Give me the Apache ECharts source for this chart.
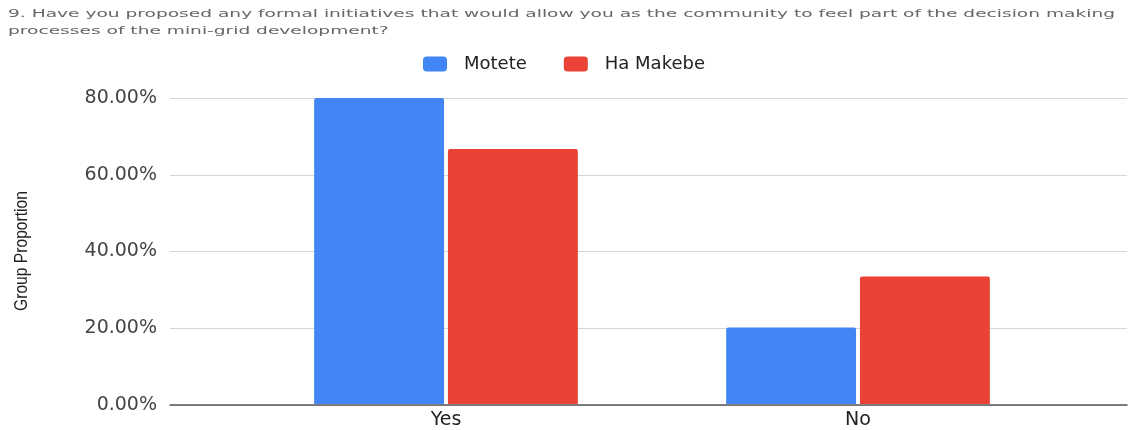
<!DOCTYPE html>
<html>
<head>
<meta charset="utf-8">
<script src="https://cdn.jsdelivr.net/npm/echarts@6/dist/echarts.min.js"></script>
<style>
  html, body { margin: 0; padding: 0; background: #fff; }
  #chart { width: 1129px; height: 430px; }
</style>
</head>
<body>
<div id="chart"></div>
<script>
// Survey answers and group shares
const categories = ['Yes', 'No'];
const seriesNames = ['Motete', 'Ha Makebe'];
const moteteValues = [0.80, 0.20];
const haMakebeValues = [0.6667, 0.3333];
const yTicks = [0, 0.2, 0.4, 0.6, 0.8];
const titleLines = [
  '9. Have you proposed any formal initiatives that would allow you as the community to feel part of the decision making',
  'processes of the mini-grid development?'
];
const yAxisTitle = 'Group Proportion';

const BLUE = '#4285F4';
const RED = '#EA4335';
const FONT = '"DejaVu Sans", Verdana, sans-serif';

const ctx = document.createElement('canvas').getContext('2d');

// Stretch the question text so its first line spans the page width
const titleFont = '11px ' + FONT;
ctx.font = titleFont;
const titleScale = 1107 / ctx.measureText(titleLines[0]).width;

// Condensed vertical axis title
const axisTitleFont = '19px "Liberation Sans", Arial, sans-serif';
ctx.font = axisTitleFont;
const axisTitleScale = 120 / ctx.measureText(yAxisTitle).width;

const pct = v => (v * 100).toFixed(2) + '%';

const chart = echarts.init(document.getElementById('chart'));
chart.setOption({
  animation: false,
  backgroundColor: '#fff',
  graphic: titleLines.map((line, i) => ({
    type: 'text',
    x: 8,
    y: 14 + i * 17,
    scaleX: titleScale,
    style: {
      text: line,
      font: titleFont,
      fill: '#666',
      textVerticalAlign: 'middle'
    }
  })).concat([{
    type: 'text',
    x: 22,
    y: 251,
    rotation: Math.PI / 2,
    scaleX: axisTitleScale,
    style: {
      text: yAxisTitle,
      font: axisTitleFont,
      fill: '#222',
      textAlign: 'center',
      textVerticalAlign: 'middle'
    }
  }]),
  legend: {
    left: 418,
    top: 50,
    itemWidth: 24,
    itemHeight: 15,
    itemGap: 37,
    icon: 'roundRect',
    data: seriesNames,
    textStyle: { fontFamily: FONT, fontSize: 18, color: '#222', padding: [0, 0, 0, 12] }
  },
  grid: [
    // bars
    { left: 240, right: 65, top: 98, bottom: 25 },
    // gridlines, tick labels and baseline across the full width
    { left: 170, right: 2, top: 98, bottom: 25 }
  ],
  xAxis: [
    {
      type: 'category',
      gridIndex: 0,
      data: categories,
      axisLine: { show: false },
      axisTick: { show: false },
      axisLabel: { fontFamily: FONT, fontSize: 19, color: '#222', margin: 7 }
    },
    {
      type: 'value',
      gridIndex: 1,
      min: 0, max: 1,
      axisLine: { show: true, lineStyle: { color: '#555', width: 1.5 } },
      axisTick: { show: false },
      axisLabel: { show: false },
      splitLine: { show: false }
    }
  ],
  yAxis: [
    {
      type: 'value',
      gridIndex: 0,
      min: yTicks[0], max: yTicks[yTicks.length - 1], interval: 0.2,
      axisLine: { show: false },
      axisTick: { show: false },
      axisLabel: { show: false },
      splitLine: { show: false }
    },
    {
      type: 'value',
      gridIndex: 1,
      min: yTicks[0], max: yTicks[yTicks.length - 1], interval: 0.2,
      axisLine: { show: false },
      axisTick: { show: false },
      axisLabel: { formatter: pct, fontFamily: FONT, fontSize: 19, color: '#444', margin: 13 },
      splitLine: { lineStyle: { color: '#d6d6d6', width: 1 } }
    }
  ],
  series: [
    {
      name: seriesNames[0],
      type: 'bar',
      xAxisIndex: 0, yAxisIndex: 0,
      data: moteteValues,
      barCategoryGap: '36%',
      barGap: '3%',
      itemStyle: { color: BLUE, borderRadius: [2, 2, 0, 0] }
    },
    {
      name: seriesNames[1],
      type: 'bar',
      xAxisIndex: 0, yAxisIndex: 0,
      data: haMakebeValues,
      barCategoryGap: '36%',
      barGap: '3%',
      itemStyle: { color: RED, borderRadius: [2, 2, 0, 0] }
    }
  ]
});
</script>
</body>
</html>
